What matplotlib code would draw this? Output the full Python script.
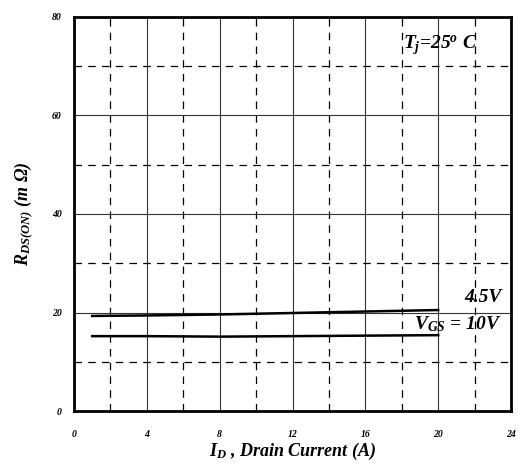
import numpy as np
import matplotlib.pyplot as plt

plt.rcParams['font.family'] = ['Liberation Serif', 'DejaVu Serif']
plt.rcParams['font.weight'] = 'bold'
plt.rcParams['font.style'] = 'italic'
plt.rcParams['axes.labelweight'] = 'bold'
plt.rcParams['mathtext.fontset'] = 'custom'
plt.rcParams['mathtext.rm'] = 'Liberation Serif:bold:italic'
plt.rcParams['mathtext.it'] = 'Liberation Serif:bold:italic'
plt.rcParams['mathtext.bf'] = 'Liberation Serif:bold:italic'

# datos
i_d = [1, 4, 8, 12, 16, 20]
r_45v = [19.3, 19.4, 19.6, 19.9, 20.2, 20.5]
r_10v = [15.2, 15.2, 15.1, 15.2, 15.3, 15.4]

x_major = [0, 4, 8, 12, 16, 20, 24]
x_minor = [2, 6, 10, 14, 18, 22]
y_major = [0, 20, 40, 60, 80]
y_minor = [10, 30, 50, 70]

fig = plt.figure(figsize=(5.2, 4.63), dpi=100)
ax = fig.add_axes([0.1423, 0.1123, 0.8404, 0.851])

ax.plot(i_d, r_45v, color="black", lw=1.8)
ax.plot(i_d, r_10v, color="black", lw=1.8)

ax.set_xlim(0, 24)
ax.set_ylim(0, 80)
ax.set_xticks(x_major)
ax.set_xticks(x_minor, minor=True)
ax.set_yticks(y_major)
ax.set_yticks(y_minor, minor=True)
ax.set_xticklabels([str(v) for v in x_major], fontsize=7, fontweight="bold", fontstyle="italic")
ax.set_yticklabels([str(v) for v in y_major], fontsize=7, fontweight="bold", fontstyle="italic")
ax.tick_params(which="both", length=0)
ax.tick_params(axis="x", pad=14)
ax.tick_params(axis="y", pad=9)

ax.grid(True, which="major", color="#333333", lw=0.8, ls="-")
ax.grid(True, which="minor", color="black", lw=0.9, ls=(0, (6, 5)))
for s in ax.spines.values():
    s.set_linewidth(2)

ax.set_xlabel("$I_D$ , Drain Current (A)", fontsize=13, fontweight="bold", labelpad=1)
ax.set_ylabel(r"$R_{DS(ON)}\ (m\ \Omega)$", fontsize=13, fontweight="bold", labelpad=12)

ax.text(20.1, 74.2, r"$T_j$=25$^o$ C", fontsize=14, ha="center", va="center")
ax.text(23.5, 23.1, "4.5V", fontsize=14, ha="right", va="center")
ax.text(23.5, 17.6, r"$V_{GS}$ = 10V", fontsize=14, ha="right", va="center")

plt.savefig("out.png", dpi=100)
